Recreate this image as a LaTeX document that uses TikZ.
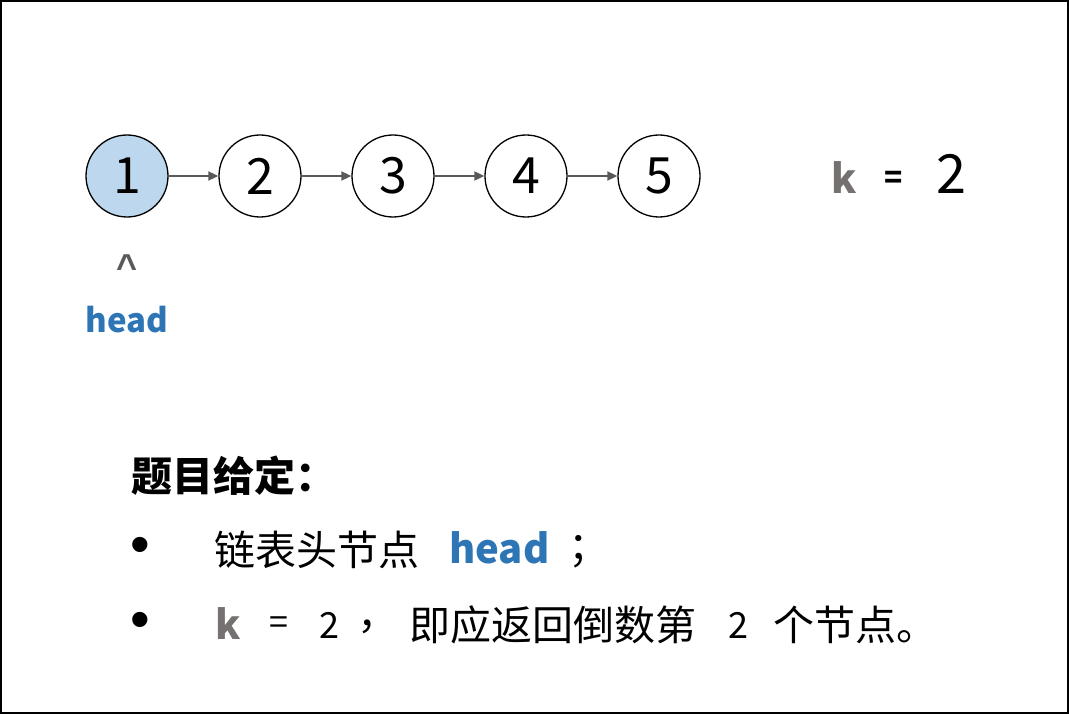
\documentclass[tikz,border=0pt]{standalone}
\usepackage{fontspec}
\setmainfont{Noto Sans CJK SC}
\newfontfamily\bulfont{Liberation Sans}
\usetikzlibrary{arrows.meta}
\definecolor{nodefill}{HTML}{BDD7EE}
\definecolor{headblue}{HTML}{2E75B6}
\definecolor{kgray}{HTML}{767171}
\definecolor{arrgray}{HTML}{595959}
\tikzset{
  lnode/.style={circle, draw=black, line width=1.3pt, minimum size=82pt, inner sep=0pt, font=\fontsize{50}{50}\selectfont},
  larrow/.style={draw=arrgray, line width=1.8pt, -{Triangle[length=10pt,width=9pt]}},
  txt/.style={inner sep=0pt, font=\fontsize{41}{41}\selectfont},
  bul/.style={inner sep=0pt, font=\bulfont\fontsize{56}{56}\selectfont},
}
\begin{document}
\begin{tikzpicture}[x=1pt,y=-1pt]
\useasboundingbox (0,0) rectangle (1069,714);
\draw[line width=2pt] (1,1) rectangle (1068,713);
\node[lnode, fill=nodefill] (n1) at (127,176) {1};
\node[lnode, fill=white] (n2) at (260,176) {2};
\node[lnode, fill=white] (n3) at (393,176) {3};
\node[lnode, fill=white] (n4) at (526,176) {4};
\node[lnode, fill=white] (n5) at (659,176) {5};
\draw[larrow] (n1) -- (n2);
\draw[larrow] (n2) -- (n3);
\draw[larrow] (n3) -- (n4);
\draw[larrow] (n4) -- (n5);
\node[inner sep=0pt, text=kgray, font=\fontsize{40}{40}\selectfont\bfseries] (k) at (844,178) {k};
\node[inner sep=0pt, font=\fontsize{30}{30}\selectfont\bfseries] (eq) at (894,180) {=};
\node[inner sep=0pt, font=\fontsize{54}{54}\selectfont] (kv) at (951,174) {2};
\node[inner sep=0pt, text=arrgray, font=\bulfont\bfseries\fontsize{36}{36}\selectfont] (caret) at (127,267) {\symbol{94}};
\node[inner sep=0pt, text=headblue, font=\fontsize{33}{33}\selectfont\bfseries] (head) at (127,320) {head};
\node[txt, anchor=west, font=\fontsize{41}{41}\selectfont\bfseries] (title) at (131,476) {题目给定：};
\node[bul] (b1) at (140,550) {•};
\node[txt, anchor=west] (l1) at (214,550) {链表头节点};
\node[txt, anchor=west, text=headblue, font=\fontsize{40}{40}\selectfont\bfseries] (l1h) at (449,548) {head};
\node[txt, anchor=west] (l1s) at (568,552) {；};
\node[bul] (b2) at (140,625) {•};
\node[txt, text=kgray, font=\fontsize{40}{40}\selectfont\bfseries] (l2k) at (228,624) {k};
\node[txt, font=\fontsize{34}{34}\selectfont] (l2eq) at (279,626) {=};
\node[txt, font=\fontsize{36}{36}\selectfont] (l2v) at (329,625) {2};
\node[txt] (l2c) at (378,627) {，};
\node[txt, anchor=west] (l2t) at (409,625) {即应返回倒数第};
\node[txt, font=\fontsize{36}{36}\selectfont] (l2n) at (738,625) {2};
\node[txt, anchor=west] (l2e) at (773,625) {个节点。};
\end{tikzpicture}
\end{document}
